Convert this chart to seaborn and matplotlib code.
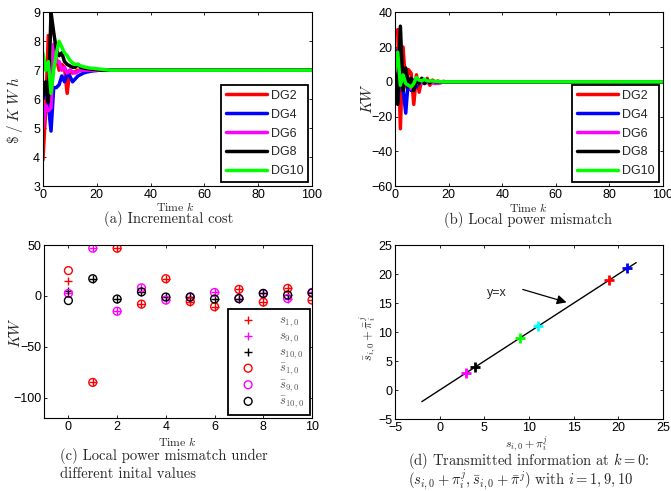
import matplotlib
matplotlib.use("Agg")
import matplotlib.pyplot as plt
import pandas as pd
import seaborn as sns

# (a) incremental cost, transient part + final step k=100
time_a = list(range(26)) + [100]
cost_dg2 = [3.9, 5.6, 8.2, 6.1, 7.3, 7.4, 7.0, 7.2, 7.1, 6.2, 7.0, 6.9, 6.95, 7.0, 7.0, 7.0, 7.0, 7.0, 7.0, 7.0, 7.0, 7.0, 7.0, 7.0, 7.0, 7.0, 7.0]
cost_dg4 = [6.0, 6.5, 5.8, 4.9, 6.4, 6.4, 6.5, 6.8, 6.6, 6.9, 6.8, 6.6, 6.7, 6.8, 6.85, 6.9, 6.93, 6.95, 6.97, 6.98, 6.99, 7.0, 7.0, 7.0, 7.0, 7.0, 7.0]
cost_dg6 = [5.0, 5.8, 5.6, 5.7, 7.9, 7.3, 7.3, 7.0, 7.1, 6.9, 7.0, 6.95, 6.9, 6.95, 7.0, 7.0, 7.0, 7.0, 7.0, 7.0, 7.0, 7.0, 7.0, 7.0, 7.0, 7.0, 7.0]
cost_dg8 = [6.1, 6.6, 5.9, 9.0, 8.3, 7.7, 7.5, 7.6, 7.3, 7.2, 7.15, 7.1, 7.1, 7.2, 7.1, 7.08, 7.06, 7.05, 7.04, 7.03, 7.02, 7.01, 7.0, 7.0, 7.0, 7.0, 7.0]
cost_dg10 = [7.6, 7.0, 7.3, 6.2, 7.0, 7.6, 8.0, 7.8, 7.6, 7.5, 7.35, 7.25, 7.2, 7.2, 7.15, 7.12, 7.1, 7.08, 7.07, 7.06, 7.05, 7.04, 7.03, 7.02, 7.01, 7.0, 7.0]

# (b) local power mismatch
time_b = list(range(21)) + [100]
mis_dg2 = [28, 30, -27, 20, -3, 7, 5, -13, 4, -6, 2, -1, 2, -2, 1, -1, 0.5, -0.5, 0.3, 0, 0, 0]
mis_dg4 = [19, -12, 6, -4, -18, 2, -5, 1, -3, 1, -1, 0.5, -0.5, 0.3, 0, 0, 0, 0, 0, 0, 0, 0]
mis_dg6 = [10, -5, 3, -3, 2, -2, -4, -2, -1, 0, -1, 0, -0.5, 0, -0.8, -0.5, -1, -0.5, 0, 0, 0, 0]
mis_dg8 = [5, -13, 32, -5, 8, -3, 2, -5, 1, -1, 2, -1, 1, -0.5, 0.5, 0, 0, 0, 0, 0, 0, 0]
mis_dg10 = [7, 17, -2, 4, -1, -2, -3, -1, 2.5, 1, 0.5, 1.5, 0.5, 0.5, 0.5, 0.3, 0.2, 0.1, 0, 0, 0, 0]

dg_names = ["DG2", "DG4", "DG6", "DG8", "DG10"]
dg_colors = ["#ff0000", "#0000ff", "#ff00ff", "#000000", "#00ff00"]

# (c) mismatch under different initial values
time_c = list(range(11))
s1 = [15, -85, 47, -8, 17, -5.5, -10.5, 6.5, -6, 7.5, -4]
s9 = [3, 47, -15, 8, -4, -1, 3.5, -2.5, 2.5, -2.5, 3.5]
s10 = [5, 17, -3, 4, -1, -1, -3, -2.5, 2.5, 1, 3]
sbar1 = [25, -85, 47, -8, 17, -5.5, -10.5, 6.5, -6, 7.5, -4]
sbar9 = [2.5, 47, -15, 8, -4, -1, 3.5, -2.5, 2.5, -2.5, 3.5]
sbar10 = [-4.5, 17, -3, 4, -1, -1, -3, -2.5, 2.5, 1, 3]

# (d) transmitted information at k=0
line_x = [-2, 22]
trans_x = [3, 4, 9, 11, 19, 21]
trans_y = [3, 4, 9, 11, 19, 21]
trans_colors = ["#ff00ff", "#000000", "#00ff00", "#00ffff", "#ff0000", "#0000ff"]

sns.set_theme(style="ticks")
plt.rcParams.update({
    "font.family": ["Liberation Sans", "DejaVu Sans"],
    "mathtext.fontset": "cm",
    "xtick.direction": "in", "ytick.direction": "in",
    "xtick.top": True, "ytick.right": True,
    "xtick.major.size": 2.5, "ytick.major.size": 2.5,
    "xtick.major.width": 0.6, "ytick.major.width": 0.6,
    "xtick.labelsize": 9, "ytick.labelsize": 9,
    "xtick.color": "black", "ytick.color": "black",
    "xtick.major.pad": 2, "ytick.major.pad": 2,
    "axes.edgecolor": "black", "axes.linewidth": 0.8,
    "axes.unicode_minus": True,
    "legend.framealpha": 1.0,
})

fig = plt.figure(figsize=(6.71, 4.91), dpi=100)
ax_a = fig.add_axes([0.064, 0.621, 0.401, 0.354])
ax_b = fig.add_axes([0.5887, 0.621, 0.3994, 0.354])
ax_c = fig.add_axes([0.0656, 0.1487, 0.3994, 0.352])
ax_d = fig.add_axes([0.5887, 0.1466, 0.3994, 0.354])

serif = "cmr10"


def dg_frame(t, series):
    rows = []
    for name, vals in zip(dg_names, series):
        rows.append(pd.DataFrame({"k": t, "v": vals, "DG": name}))
    return pd.concat(rows, ignore_index=True)


def dg_legend(ax):
    handles, labels = ax.get_legend_handles_labels()
    leg = ax.legend(handles, labels, loc="lower right", fontsize=9, frameon=True,
                    fancybox=False, edgecolor="black", handlelength=3.3,
                    labelspacing=0.55, borderaxespad=0.3, borderpad=0.4,
                    handletextpad=0.3)
    leg.get_frame().set_linewidth(1.3)
    for ln in leg.get_lines():
        ln.set_linewidth(2.5)


# (a)
df_a = dg_frame(time_a, [cost_dg2, cost_dg4, cost_dg6, cost_dg8, cost_dg10])
sns.lineplot(data=df_a, x="k", y="v", hue="DG", palette=dg_colors, hue_order=dg_names,
             linewidth=2.5, estimator=None, sort=False, ax=ax_a)
ax_a.set_xlim(0, 100)
ax_a.set_ylim(3, 9)
ax_a.set_xticks(range(0, 101, 20))
ax_a.set_yticks(range(3, 10))
ax_a.set_xlabel("")
ax_a.set_ylabel("")
dg_legend(ax_a)

# (b)
df_b = dg_frame(time_b, [mis_dg2, mis_dg4, mis_dg6, mis_dg8, mis_dg10])
sns.lineplot(data=df_b, x="k", y="v", hue="DG", palette=dg_colors, hue_order=dg_names,
             linewidth=2.5, estimator=None, sort=False, ax=ax_b)
ax_b.set_xlim(0, 100)
ax_b.set_ylim(-60, 40)
ax_b.set_xticks(range(0, 101, 20))
ax_b.set_yticks(range(-60, 41, 20))
ax_b.set_xlabel("")
ax_b.set_ylabel("")
dg_legend(ax_b)

# (c)
c_series = [
    (s1, "+", "#ff0000", r"$s_{1,0}$"),
    (s9, "+", "#ff00ff", r"$s_{9,0}$"),
    (s10, "+", "#000000", r"$s_{10,0}$"),
    (sbar1, "o", "#ff0000", r"$\bar{s}_{1,0}$"),
    (sbar9, "o", "#ff00ff", r"$\bar{s}_{9,0}$"),
    (sbar10, "o", "#000000", r"$\bar{s}_{10,0}$"),
]
for vals, mk, col, lab in c_series:
    if mk == "o":
        sns.scatterplot(x=time_c, y=vals, marker="o", s=32, color=col, facecolors="none",
                        edgecolor=col, linewidth=1.0, label=lab, ax=ax_c)
    else:
        sns.scatterplot(x=time_c, y=vals, marker="+", s=38, color=col, linewidth=1.0,
                        label=lab, ax=ax_c)
ax_c.set_xlim(-1, 10)
ax_c.set_ylim(-120, 50)
ax_c.set_xticks(range(0, 11, 2))
ax_c.set_yticks([-100, -50, 0, 50])
leg_c = ax_c.legend(loc="lower right", fontsize=9, frameon=True, fancybox=False,
                    edgecolor="black", labelspacing=0.08, borderaxespad=0.2,
                    handletextpad=1.3, borderpad=0.4, handlelength=2.4)
leg_c.get_frame().set_linewidth(1.3)
for t in leg_c.get_texts():
    t.set_color("#555555")

# (d)
sns.lineplot(x=line_x, y=line_x, color="black", linewidth=1.0, ax=ax_d)
for xv, yv, col in zip(trans_x, trans_y, trans_colors):
    sns.scatterplot(x=[xv], y=[yv], marker="+", s=55, color=col, linewidth=2.0, ax=ax_d, zorder=3)
ax_d.set_xlim(-5, 25)
ax_d.set_ylim(-5, 25)
ax_d.set_xticks(range(-5, 26, 5))
ax_d.set_yticks(range(-5, 26, 5))
ax_d.text(6.4, 16.7, "y=x", fontsize=9, ha="center", va="center")
ax_d.annotate("", xy=(14.5, 15.0), xytext=(9.0, 17.5),
              arrowprops=dict(arrowstyle="-|>", color="black", lw=0.9, mutation_scale=14))

# axis labels and captions
fig.text(0.0224, 0.775, r"$\$\;/\;K\;W\;h$", rotation=90, ha="center", va="center", fontsize=11)
fig.text(0.548, 0.800, r"$KW$", rotation=90, ha="center", va="center", fontsize=11)
fig.text(0.0224, 0.322, r"$KW$", rotation=90, ha="center", va="center", fontsize=11)
fig.text(0.548, 0.312, r"$\bar{s}_{i,0}+\bar{\pi}_i^j$", rotation=90, ha="center", va="center", fontsize=9)

fig.text(0.262, 0.580, r"Time $k$", ha="center", va="center", fontsize=8.5, family=serif)
fig.text(0.788, 0.578, r"Time $k$", ha="center", va="center", fontsize=8.5, family=serif)
fig.text(0.264, 0.0998, r"Time $k$", ha="center", va="center", fontsize=8.5, family=serif)
fig.text(0.785, 0.0957, r"$s_{i,0}+\pi_i^j$", ha="center", va="center", fontsize=8.5)

fig.text(0.252, 0.554, "(a) Incremental cost", ha="center", va="center", fontsize=10.5, family=serif)
fig.text(0.787, 0.552, "(b) Local power mismatch", ha="center", va="center", fontsize=10.5, family=serif)
fig.text(0.0894, 0.0713, "(c) Local power mismatch under", ha="left", va="center", fontsize=10.5, family=serif)
fig.text(0.0894, 0.0346, "different inital values", ha="left", va="center", fontsize=10.5, family=serif)
fig.text(0.608, 0.0601, r"(d) Transmitted information at $k=0$:", ha="left", va="center", fontsize=10.5, family=serif)
fig.text(0.608, 0.0235, r"$(s_{i,0}+\pi_i^j,\bar{s}_{i,0}+\bar{\pi}^j)$ with $i=1,9,10$", ha="left", va="center",
         fontsize=10.5, family=serif)

plt.savefig("out.png", dpi=100)
